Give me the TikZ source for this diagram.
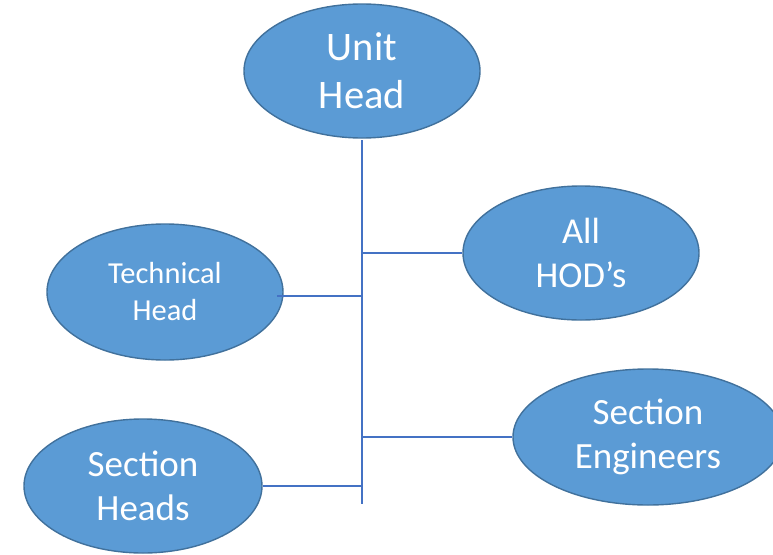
\documentclass[tikz,border=0pt]{standalone}
\usepackage{fontspec}
\setmainfont{Carlito}
\usetikzlibrary{shapes.geometric}

\definecolor{boxfill}{HTML}{5B9BD5}
\definecolor{boxline}{HTML}{41719C}
\definecolor{linkline}{HTML}{4472C4}

\tikzset{
  post/.style={ellipse, draw=boxline, line width=1.4pt, fill=boxfill,
    text=white, align=center, inner sep=0pt,
    minimum width=236pt, minimum height=134pt},
  link/.style={draw=linkline, line width=1.2pt}
}

\begin{document}
\begin{tikzpicture}[x=1pt, y=-1pt]
  \useasboundingbox (0,0) rectangle (773,554);
  \clip (0,0) rectangle (773,554);

  \node[post, font=\fontsize{40.5}{48}\selectfont] (unit) at (362,71) {Unit\\Head};
  \node[post, font=\fontsize{36.5}{44}\selectfont] (hods) at (581,253) {All\\HOD’s};
  \node[post, font=\fontsize{30.5}{37}\selectfont, minimum height=136pt] (tech) at (165,292) {Technical\\Head};
  \node[post, font=\fontsize{37}{44}\selectfont, minimum width=270pt, minimum height=136pt] (seng) at (648,437) {Section\\Engineers};
  \node[post, font=\fontsize{37}{44}\selectfont, minimum width=238pt] (shead) at (143,486) {Section\\Heads};

  \coordinate (top) at (362,140);
  \coordinate (bot) at (362,504);
  \coordinate (techend) at (277,296);

  \draw[link] (top) -- (bot);
  \draw[link] (hods.west) -- (hods.west -| top);
  \draw[link] (techend) -- (techend -| top);
  \draw[link] (seng.west) -- (seng.west -| top);
  \draw[link] (shead.east) -- (shead.east -| top);
\end{tikzpicture}
\end{document}
